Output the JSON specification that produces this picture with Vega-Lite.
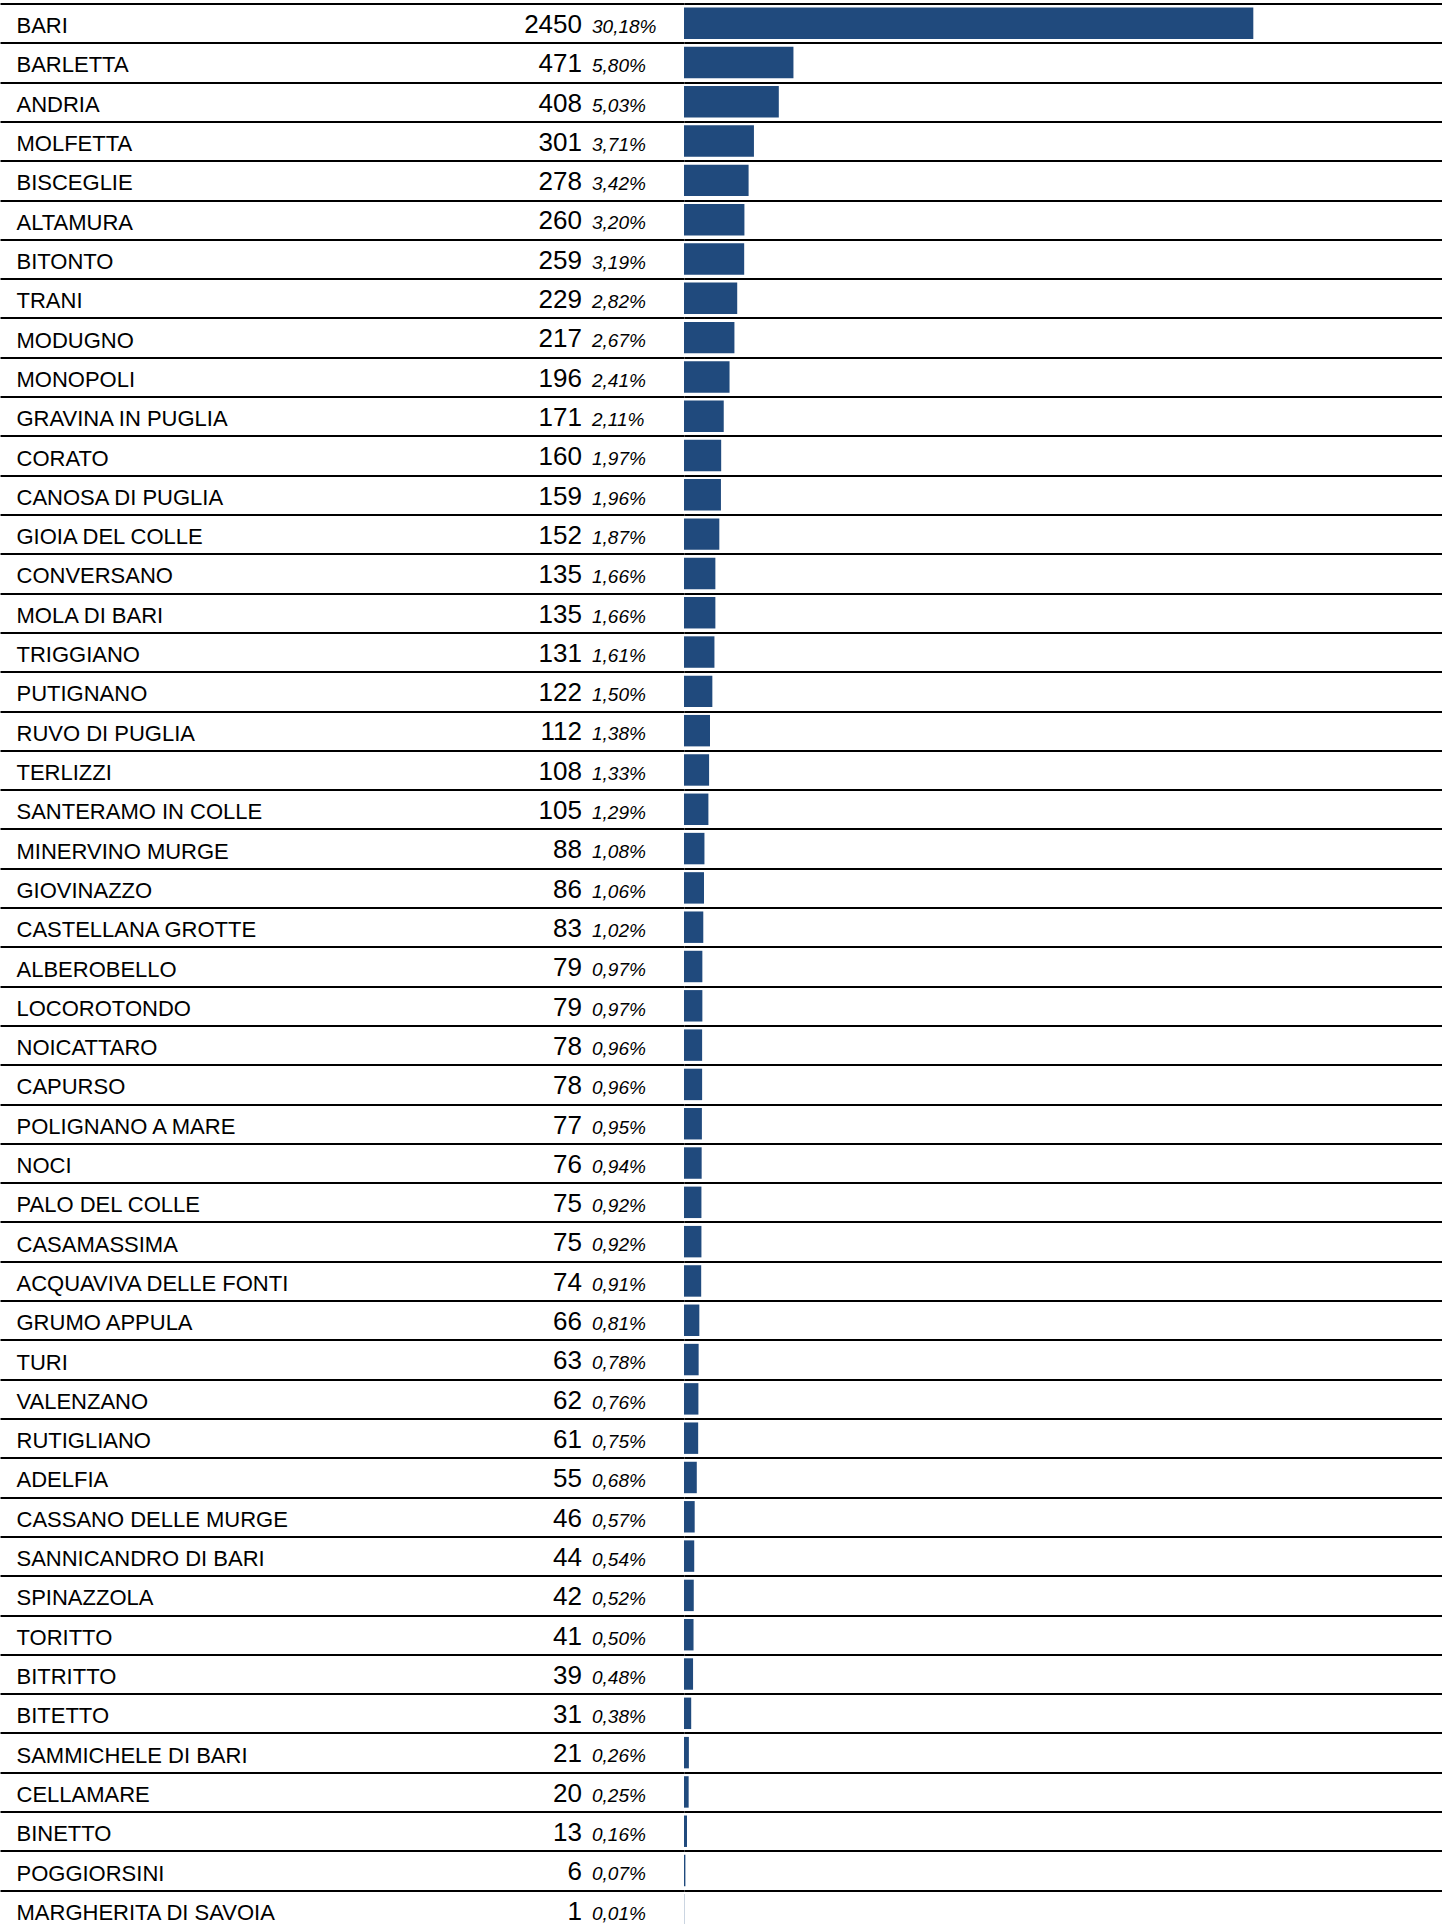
{
  "$schema": "https://vega.github.io/schema/vega-lite/v6.json",
  "autosize": {"type": "none"},
  "padding": {"left": 684, "top": 3.5, "right": 0, "bottom": 0},
  "width": 758,
  "height": 1920.5,
  "background": "white",
  "config": {
    "view": {"stroke": null},
    "font": "Liberation Sans",
    "locale": {"number": {"decimal": ",", "thousands": ".", "grouping": [3], "currency": ["€", ""]}}
  },
  "data": {"values": [
    {"comune": "BARI", "casi": 2450, "quota": 0.3018},
    {"comune": "BARLETTA", "casi": 471, "quota": 0.0580},
    {"comune": "ANDRIA", "casi": 408, "quota": 0.0503},
    {"comune": "MOLFETTA", "casi": 301, "quota": 0.0371},
    {"comune": "BISCEGLIE", "casi": 278, "quota": 0.0342},
    {"comune": "ALTAMURA", "casi": 260, "quota": 0.0320},
    {"comune": "BITONTO", "casi": 259, "quota": 0.0319},
    {"comune": "TRANI", "casi": 229, "quota": 0.0282},
    {"comune": "MODUGNO", "casi": 217, "quota": 0.0267},
    {"comune": "MONOPOLI", "casi": 196, "quota": 0.0241},
    {"comune": "GRAVINA IN PUGLIA", "casi": 171, "quota": 0.0211},
    {"comune": "CORATO", "casi": 160, "quota": 0.0197},
    {"comune": "CANOSA DI PUGLIA", "casi": 159, "quota": 0.0196},
    {"comune": "GIOIA DEL COLLE", "casi": 152, "quota": 0.0187},
    {"comune": "CONVERSANO", "casi": 135, "quota": 0.0166},
    {"comune": "MOLA DI BARI", "casi": 135, "quota": 0.0166},
    {"comune": "TRIGGIANO", "casi": 131, "quota": 0.0161},
    {"comune": "PUTIGNANO", "casi": 122, "quota": 0.0150},
    {"comune": "RUVO DI PUGLIA", "casi": 112, "quota": 0.0138},
    {"comune": "TERLIZZI", "casi": 108, "quota": 0.0133},
    {"comune": "SANTERAMO IN COLLE", "casi": 105, "quota": 0.0129},
    {"comune": "MINERVINO MURGE", "casi": 88, "quota": 0.0108},
    {"comune": "GIOVINAZZO", "casi": 86, "quota": 0.0106},
    {"comune": "CASTELLANA GROTTE", "casi": 83, "quota": 0.0102},
    {"comune": "ALBEROBELLO", "casi": 79, "quota": 0.0097},
    {"comune": "LOCOROTONDO", "casi": 79, "quota": 0.0097},
    {"comune": "NOICATTARO", "casi": 78, "quota": 0.0096},
    {"comune": "CAPURSO", "casi": 78, "quota": 0.0096},
    {"comune": "POLIGNANO A MARE", "casi": 77, "quota": 0.0095},
    {"comune": "NOCI", "casi": 76, "quota": 0.0094},
    {"comune": "PALO DEL COLLE", "casi": 75, "quota": 0.0092},
    {"comune": "CASAMASSIMA", "casi": 75, "quota": 0.0092},
    {"comune": "ACQUAVIVA DELLE FONTI", "casi": 74, "quota": 0.0091},
    {"comune": "GRUMO APPULA", "casi": 66, "quota": 0.0081},
    {"comune": "TURI", "casi": 63, "quota": 0.0078},
    {"comune": "VALENZANO", "casi": 62, "quota": 0.0076},
    {"comune": "RUTIGLIANO", "casi": 61, "quota": 0.0075},
    {"comune": "ADELFIA", "casi": 55, "quota": 0.0068},
    {"comune": "CASSANO DELLE MURGE", "casi": 46, "quota": 0.0057},
    {"comune": "SANNICANDRO DI BARI", "casi": 44, "quota": 0.0054},
    {"comune": "SPINAZZOLA", "casi": 42, "quota": 0.0052},
    {"comune": "TORITTO", "casi": 41, "quota": 0.0050},
    {"comune": "BITRITTO", "casi": 39, "quota": 0.0048},
    {"comune": "BITETTO", "casi": 31, "quota": 0.0038},
    {"comune": "SAMMICHELE DI BARI", "casi": 21, "quota": 0.0026},
    {"comune": "CELLAMARE", "casi": 20, "quota": 0.0025},
    {"comune": "BINETTO", "casi": 13, "quota": 0.0016},
    {"comune": "POGGIORSINI", "casi": 6, "quota": 0.0007},
    {"comune": "MARGHERITA DI SAVOIA", "casi": 1, "quota": 0.0001}
  ]},
  "encoding": {
    "y": {
      "field": "comune",
      "type": "nominal",
      "sort": null,
      "title": null,
      "scale": {"range": [0, 1926], "paddingInner": 0, "paddingOuter": 0},
      "axis": {
        "orient": "left",
        "domain": false,
        "ticks": true,
        "tickBand": "extent",
        "tickSize": 684,
        "tickWidth": 2,
        "tickColor": "#000",
        "grid": true,
        "gridColor": "#000",
        "gridWidth": 2,
        "gridOpacity": 1,
        "labelAlign": "left",
        "labelPadding": -16,
        "labelBaseline": "alphabetic",
        "labelOffset": 9.5,
        "labelFontSize": 22,
        "labelFont": "Liberation Sans",
        "labelColor": "#000",
        "labelLimit": 700,
        "labelOverlap": false,
        "labelFlush": false,
        "zindex": 0
      }
    }
  },
  "layer": [
    {
      "mark": {"type": "bar", "color": "#204a7d", "height": {"band": 0.8}},
      "encoding": {
        "x": {"field": "casi", "type": "quantitative", "scale": {"domain": [0, 3262], "nice": false}, "axis": null}
      }
    },
    {
      "mark": {"type": "text", "align": "right", "dx": -102, "dy": 9.8, "baseline": "alphabetic", "fontSize": 26, "color": "#000", "font": "Liberation Sans"},
      "encoding": {
        "x": {"datum": 0},
        "text": {"field": "casi", "type": "quantitative", "format": "d"}
      }
    },
    {
      "mark": {"type": "text", "align": "left", "dx": -92, "dy": 9.8, "baseline": "alphabetic", "fontSize": 19, "fontStyle": "italic", "color": "#000", "font": "Liberation Sans"},
      "encoding": {
        "x": {"datum": 0},
        "text": {"field": "quota", "type": "quantitative", "format": ".2%"}
      }
    }
  ]
}
